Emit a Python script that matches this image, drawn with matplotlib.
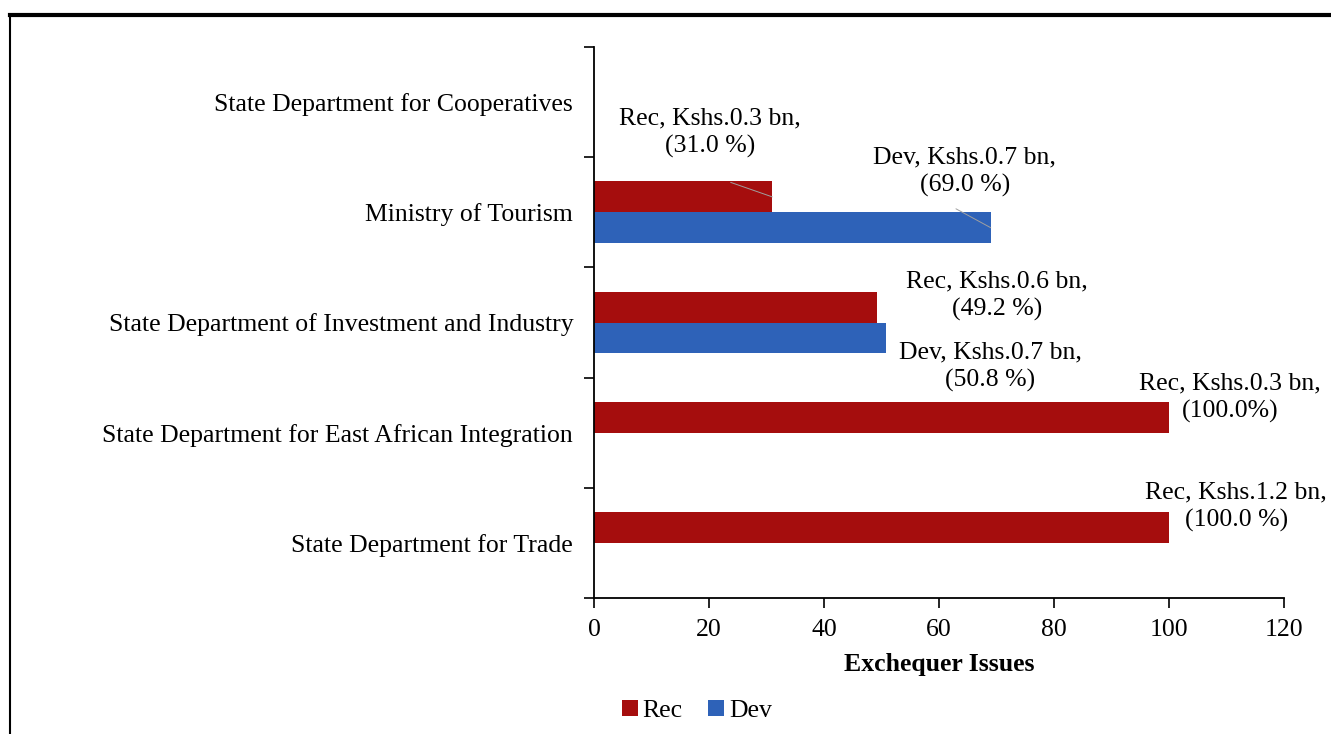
import numpy as np
import matplotlib.pyplot as plt
from matplotlib.lines import Line2D

plt.rcParams['font.family'] = ['Liberation Serif', 'DejaVu Serif']

# Data (bottom to top)
departments = ['State Department for Trade',
               'State Department for East African Integration',
               'State Department of Investment and Industry',
               'Ministry of Tourism',
               'State Department for Cooperatives']
rec = [100.0, 100.0, 49.2, 31.0, 0.0]
dev = [0.0, 0.0, 50.8, 69.0, 0.0]

rec_labels = ['Rec, Kshs.1.2 bn,\n(100.0 %)',
              'Rec, Kshs.0.3 bn,\n(100.0%)',
              'Rec, Kshs.0.6 bn,\n(49.2 %)',
              'Rec, Kshs.0.3 bn,\n(31.0 %)',
              None]
dev_labels = [None, None,
              'Dev, Kshs.0.7 bn,\n(50.8 %)',
              'Dev, Kshs.0.7 bn,\n(69.0 %)',
              None]

# label positions (data coords) where each label sits
rec_pos = [(111.7, 0.33), (110.6, 1.32), (70.1, 2.24), (20.2, 3.72), None]
dev_pos = [None, None, (68.9, 1.60), (64.5, 3.37), None]

rec_color = '#a50d0d'
dev_color = '#2e62b8'
bh = 0.28

fig = plt.figure(figsize=(13.31, 7.34), dpi=100)
ax = fig.add_axes([594/1331, 1-598/734, (1284-594)/1331, (598-47)/734])

y = np.arange(len(departments))
ax.barh(y + bh/2, rec, height=bh, color=rec_color, label='Rec')
ax.barh(y - bh/2, dev, height=bh, color=dev_color, label='Dev')

fs = 18.5
lead_rec = dict(arrowstyle='-', color='#a0a0a0', lw=0.7, relpos=(0.23, 0), shrinkA=47, shrinkB=0)
lead_dev = dict(arrowstyle='-', color='#a0a0a0', lw=0.7, relpos=(0.33, 0), shrinkA=14, shrinkB=0)
for i in range(len(departments)):
    if rec_labels[i]:
        ax.annotate(rec_labels[i], xy=(rec[i], y[i] + bh/2), xytext=rec_pos[i],
                    ha='center', va='center', fontsize=fs, linespacing=1.3,
                    arrowprops=lead_rec if i == 3 else None)
    if dev_labels[i]:
        ax.annotate(dev_labels[i], xy=(dev[i], y[i] - bh/2), xytext=dev_pos[i],
                    ha='center', va='center', fontsize=fs, linespacing=1.3,
                    arrowprops=lead_dev if i == 3 else None)

ax.set_xlim(0, 120)
ax.set_ylim(-0.5, len(departments) - 0.5)
ax.set_xticks(np.arange(0, 121, 20))
ax.set_yticks(y)
ax.set_yticklabels(departments)
ax.set_yticks(np.arange(-0.5, len(departments), 1), minor=True)
ax.tick_params(axis='y', which='major', length=0, pad=15, labelsize=fs)
ax.tick_params(axis='y', which='minor', length=7, width=1.2, direction='out')
ax.tick_params(axis='x', length=7, width=1.2, direction='out', labelsize=fs, pad=8)
for s in ['top', 'right']:
    ax.spines[s].set_visible(False)
for s in ['left', 'bottom']:
    ax.spines[s].set_linewidth(1.3)
ax.set_xlabel('Exchequer Issues', fontsize=fs, fontweight='bold', labelpad=9)

fig.legend(loc='center', bbox_to_anchor=(697/1331, 1-711/734), ncol=2, frameon=False,
           fontsize=fs, handlelength=0.6, handleheight=0.6, handletextpad=0.2,
           columnspacing=1.0)

# page border
fig.add_artist(Line2D([10/1331, 1], [1-15/734, 1-15/734], color='black', lw=3))
fig.add_artist(Line2D([10/1331, 10/1331], [0, 1-15/734], color='black', lw=1.5))

fig.savefig('out.png', dpi=100)
